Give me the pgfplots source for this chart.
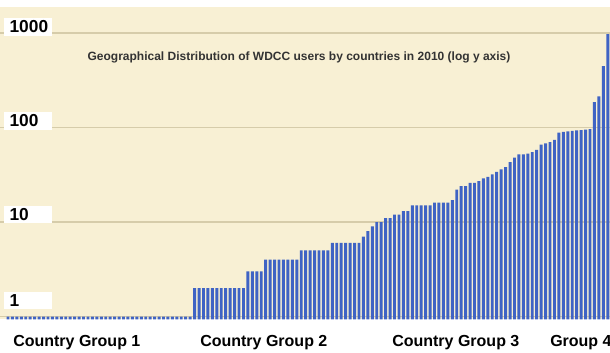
\documentclass[border=0pt]{standalone}
\usepackage{pgfplots}
\usepackage{pgfplotstable}
\pgfplotsset{compat=1.18}
\usepackage{fontspec}
\setmainfont{Liberation Sans}
\definecolor{cream}{HTML}{F8F0D4}
\definecolor{barblue}{HTML}{3F63C4}
\definecolor{gridtan}{HTML}{D6CCAA}
\pgfplotstableread[row sep=\\]{
x y\\
0 1\\ 1 1\\ 2 1\\ 3 1\\ 4 1\\ 5 1\\ 6 1\\ 7 1\\ 8 1\\ 9 1\\
10 1\\ 11 1\\ 12 1\\ 13 1\\ 14 1\\ 15 1\\ 16 1\\ 17 1\\ 18 1\\ 19 1\\
20 1\\ 21 1\\ 22 1\\ 23 1\\ 24 1\\ 25 1\\ 26 1\\ 27 1\\ 28 1\\ 29 1\\
30 1\\ 31 1\\ 32 1\\ 33 1\\ 34 1\\ 35 1\\ 36 1\\ 37 1\\ 38 1\\ 39 1\\
40 1\\ 41 1\\
42 2\\ 43 2\\ 44 2\\ 45 2\\ 46 2\\ 47 2\\ 48 2\\ 49 2\\ 50 2\\ 51 2\\ 52 2\\ 53 2\\
54 3\\ 55 3\\ 56 3\\ 57 3\\
58 4\\ 59 4\\ 60 4\\ 61 4\\ 62 4\\ 63 4\\ 64 4\\ 65 4\\
66 5\\ 67 5\\ 68 5\\ 69 5\\ 70 5\\ 71 5\\ 72 5\\
73 6\\ 74 6\\ 75 6\\ 76 6\\ 77 6\\ 78 6\\ 79 6\\
80 7\\ 81 8\\ 82 9\\ 83 10\\ 84 10\\ 85 11\\ 86 11\\ 87 12\\ 88 12\\ 89 13\\ 90 13\\
91 15\\ 92 15\\ 93 15\\ 94 15\\ 95 15\\ 96 16\\ 97 16\\ 98 16\\ 99 16\\ 100 17\\
101 22\\ 102 24\\ 103 24\\ 104 26\\ 105 26\\ 106 27\\ 107 29\\ 108 30\\ 109 32\\ 110 34\\
111 36\\ 112 38\\ 113 43\\ 114 48\\ 115 52\\ 116 52\\ 117 53\\ 118 55\\ 119 58\\ 120 66\\
121 68\\ 122 70\\ 123 74\\ 124 88\\ 125 90\\ 126 91\\ 127 92\\ 128 93\\ 129 94\\ 130 95\\
131 96\\ 132 185\\ 133 214\\ 134 445\\ 135 970\\
}\datatable
\begin{document}
\begin{tikzpicture}[x=0.75pt,y=0.75pt]
\fill[white] (0,-33.5) rectangle (610,319.5);
\begin{axis}[
  at={(0,0)}, anchor=south west,
  scale only axis,
  width=457.5pt, height=234.4pt,
  ymode=log, log origin=infty,
  xmin=-1.8, xmax=135.5,
  ymin=0.93, ymax=1885,
  axis background/.style={fill=cream},
  axis line style={draw=none},
  xtick=\empty,
  ytick={1,10,100,1000},
  minor ytick={},
  yminorticks=false,
  yticklabels={},
  major tick length=0pt,
  ymajorgrids,
  grid style={gridtan, line width=1.2pt},
  ybar, bar width=0.66,
  clip=false,
]
\addplot[fill=barblue, draw=none] table[x=x,y=y] {\datatable};
\end{axis}
\begin{scope}[every node/.style={font=\bfseries\fontsize{13}{13}\selectfont, fill=white, anchor=west, inner ysep=2pt, inner xsep=4pt, text width=28pt, align=left}]
\node at (4,292.5) {1000};
\node at (4,198.5) {100};
\node at (4,105) {10};
\node at (4,19) {1};
\end{scope}
\node[font=\bfseries\fontsize{9}{9}\selectfont, text=black!80] at (299,262.5) {Geographical Distribution of WDCC users by countries in 2010 (log y axis)};
\begin{scope}[every node/.style={font=\bfseries\fontsize{12}{12}\selectfont, anchor=west, inner sep=0pt}]
\node at (13,-23.5) {Country Group 1};
\node at (200,-23.5) {Country Group 2};
\node at (392,-23.5) {Country Group 3};
\node at (550,-23.5) {Group 4};
\end{scope}
\pgfresetboundingbox
\path (0,-33.5) rectangle (610,319.5);
\end{tikzpicture}
\end{document}
